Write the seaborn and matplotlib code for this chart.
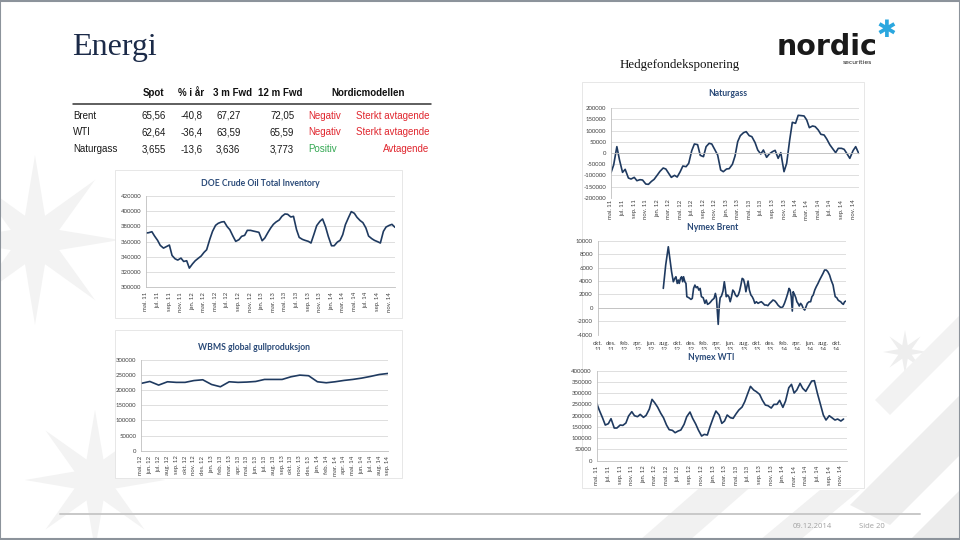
import numpy as np
import pandas as pd
import seaborn as sns
import matplotlib.pyplot as plt
from matplotlib.patches import Rectangle, Polygon
from matplotlib.lines import Line2D
from matplotlib.transforms import Bbox, TransformedBbox

W, H = 960, 540

# ---- table ----
table_cols = ["Spot", "% i år", "3 m Fwd", "12 m Fwd"]
table_rows = ["Brent", "WTI", "Naturgass"]
spot = ["65,56", "62,64", "3,655"]
pct_ytd = ["-40,8", "-36,4", "-13,6"]
fwd_3m = ["67,27", "63,59", "3,636"]
fwd_12m = ["72,05", "65,59", "3,773"]
model_signal = ["Negativ", "Negativ", "Positiv"]
model_trend = ["Sterkt avtagende", "Sterkt avtagende", "Avtagende"]

# ---- tick labels ----
month_ticks = ["mai. 11", "jul. 11", "sep. 11", "nov. 11", "jan. 12", "mar. 12", "mai. 12",
               "jul. 12", "sep. 12", "nov. 12", "jan. 13", "mar. 13", "mai. 13", "jul. 13",
               "sep. 13", "nov. 13", "jan. 14", "mar. 14", "mai. 14", "jul. 14", "sep. 14",
               "nov. 14"]
brent_ticks = ["okt.\n11", "des.\n11", "feb.\n12", "apr.\n12", "jun.\n12", "aug.\n12",
               "okt.\n12", "des.\n12", "feb.\n13", "apr.\n13", "jun.\n13", "aug.\n13",
               "okt.\n13", "des.\n13", "feb.\n14", "apr.\n14", "jun.\n14", "aug.\n14",
               "okt.\n14"]
gold_months = ["mai. 12", "jun. 12", "jul. 12", "aug. 12", "sep. 12", "okt. 12", "nov. 12",
               "des. 12", "jan. 13", "feb. 13", "mar. 13", "apr. 13", "mai. 13", "jun. 13",
               "jul. 13", "aug. 13", "sep. 13", "okt. 13", "nov. 13", "des. 13", "jan. 14",
               "feb. 14", "mar. 14", "apr. 14", "mai. 14", "jun. 14", "jul. 14", "aug. 14",
               "sep. 14"]

# ---- series (semi-monthly readings from mai 2011) ----
doe_inventory = [
    371200, 371600, 372900, 367200, 361500, 354900, 351300, 353100, 355300, 341600,
    337200, 335500, 338100, 333700, 334600, 324900, 330600, 334600, 338100, 340800,
    345600, 349100, 363200, 373400, 381300, 384000, 385700, 386200, 379600, 375600,
    366800, 360200, 362400, 366800, 368100, 374700, 374700, 373800, 372900, 372100,
    361000, 364600, 372100, 377800, 382600, 385700, 388400, 393200, 396300, 395900,
    392300, 393200, 375600, 365400, 362800, 361500, 360200, 358000, 369900, 380900,
    386600, 389700, 379100, 366800, 354400, 354400, 359300, 361500, 369000, 382200,
    391900, 399400, 397200, 391900, 387500, 384900, 377800, 367200, 363700, 361500,
    359700, 358000, 373400, 379100, 381300, 382600, 378700]

natgas_net = [
    -88000, -53700, 28400, -31300, -86600, -73100, -111900, -116400, -109000, -123900,
    -119400, -120900, -138800, -140300, -126900, -117900, -98500, -82100, -67200, -71600,
    -91000, -109000, -100000, -107500, -83600, -58200, -61200, -46300, 10400, 40300,
    37300, -10400, -16400, 28400, 43300, 40300, 13400, -9000, -76100, -83600,
    -71600, -70100, -50700, -13400, 50700, 77600, 91000, 95500, 77600, 73100,
    46300, 13400, -4500, 13400, -19400, -4500, 6000, 11900, -23900, 1500,
    -83600, -46300, 58200, 137300, 132800, 168700, 167200, 165700, 147800, 113400,
    120900, 117900, 103000, 83600, 80600, 62700, 37300, 20900, 1500, 20900,
    20900, 16400, -4500, -23900, 10400, 28400, -1500]

wti_net = [
    254800, 223700, 189600, 158500, 164400, 186700, 145200, 145200, 158500, 157000,
    167400, 198500, 217800, 200000, 195600, 205900, 192600, 201500, 229600, 272600,
    256300, 238500, 210400, 191100, 158500, 137800, 134800, 124400, 131900, 136300,
    161500, 195600, 216300, 188200, 163000, 136300, 109600, 117000, 114100, 151100,
    191100, 220700, 203000, 165900, 176300, 203000, 191100, 188200, 208900, 225200,
    238500, 262200, 299300, 330400, 314100, 306700, 294800, 269600, 247400, 244400,
    234100, 250400, 250400, 268200, 237000, 265200, 324400, 339300, 300700, 314100,
    343700, 321500, 308200, 328900, 354100, 355600, 299300, 256300, 203000, 180700,
    200000, 191100, 180700, 185200, 176300, 185200]

brent_dates = [
    "2012-07-28", "2012-08-08", "2012-08-20", "2012-08-28", "2012-09-04", "2012-09-12",
    "2012-09-19", "2012-09-24", "2012-09-30", "2012-10-05", "2012-10-09", "2012-10-15",
    "2012-10-20", "2012-10-25", "2012-10-29", "2012-11-04", "2012-11-09", "2012-11-13",
    "2012-11-22", "2012-12-02", "2012-12-08", "2012-12-14", "2012-12-20", "2012-12-26",
    "2013-01-01", "2013-01-07", "2013-01-13", "2013-01-19", "2013-01-27", "2013-02-04",
    "2013-02-10", "2013-02-16", "2013-02-24", "2013-03-03", "2013-03-09", "2013-03-18",
    "2013-03-24", "2013-03-29", "2013-04-06", "2013-04-11", "2013-04-15", "2013-04-21",
    "2013-04-28", "2013-05-04", "2013-05-08", "2013-05-13", "2013-05-19", "2013-05-25",
    "2013-05-31", "2013-06-06", "2013-06-12", "2013-06-18", "2013-06-24", "2013-07-01",
    "2013-07-07", "2013-07-13", "2013-07-19", "2013-07-25", "2013-07-31", "2013-08-06",
    "2013-08-11", "2013-08-17", "2013-08-21", "2013-08-27", "2013-09-03", "2013-09-09",
    "2013-09-15", "2013-09-21", "2013-09-28", "2013-10-06", "2013-10-13", "2013-10-21",
    "2013-10-29", "2013-11-05", "2013-11-13", "2013-11-20", "2013-11-28", "2013-12-06",
    "2013-12-13", "2013-12-21", "2013-12-29", "2014-01-05", "2014-01-13", "2014-01-20",
    "2014-01-28", "2014-02-04", "2014-02-12", "2014-02-19", "2014-02-25", "2014-03-02",
    "2014-03-07", "2014-03-12", "2014-03-16", "2014-03-22", "2014-03-28", "2014-04-02",
    "2014-04-07", "2014-04-13", "2014-04-19", "2014-04-25", "2014-05-01", "2014-05-08",
    "2014-05-14", "2014-05-20", "2014-05-28", "2014-06-04", "2014-06-10", "2014-06-16",
    "2014-06-23", "2014-06-30", "2014-07-08", "2014-07-15", "2014-07-23", "2014-07-31",
    "2014-08-07", "2014-08-15", "2014-08-22", "2014-08-30", "2014-09-06", "2014-09-15",
    "2014-09-19", "2014-09-25", "2014-10-02", "2014-10-08", "2014-10-14", "2014-10-20",
    "2014-10-26", "2014-11-01", "2014-11-07", "2014-11-13"]
brent_net = [
    2900, 6370, 9100, 7110, 5380, 3890, 4390, 4630, 3640, 4140,
    3640, 4390, 4630, 3890, 4630, 3890, 3640, 1660, 1510, 1260,
    1410, 2900, 3390, 3000, 3150, 2650, 2900, 1660, 1510, 670,
    1160, 520, 670, 910, 1160, 1410, 2150, 1410, -2460, 420,
    1510, 1760, 2500, 3890, 3000, 1660, 1910, 1660, 910, 1660,
    2650, 2400, 1910, 1660, 1910, 2500, 3390, 4390, 4240, 3490,
    2400, 3390, 3990, 2650, 1910, 1660, 1260, 670, 910, 670,
    810, 910, 670, 420, 420, 320, 670, 910, 1160, 1060,
    760, 420, 170, 20, 170, 670, 1410, 2150, 2900, 2650,
    1660, -480, 2400, 2000, 1510, 910, 670, 270, 670, 420,
    -80, -330, 170, 670, 910, 910, 1660, 1910, 2650, 3150,
    3640, 4140, 4630, 5130, 5630, 5630, 5380, 4880, 4140, 3390,
    2650, 1660, 1510, 1160, 1010, 910, 670, 520, 910, 1010]

gold_production = [222500, 229000, 217000, 228000, 226000, 226000, 232000, 234600, 219000,
                   211500, 228000, 226000, 227000, 229000, 235700, 235700, 235700, 244500,
                   250000, 248000, 228000, 224700, 228000, 232400, 235700, 240000, 245600,
                   252000, 255500]

LINE = "#1f3a60"
TITLE = "#2a4a78"
GRID = "#d9d9d9"
AXIS = "#bfbfbf"
TICKTXT = "#404040"
RED = "#e0262e"
GREEN = "#34a853"


def fx(x):
    return x / W


def fy(y):
    return 1 - y / H


sns.set_style("white")
plt.rcParams["font.family"] = ["Lato", "DejaVu Sans"]

fig = plt.figure(figsize=(9.6, 5.4), dpi=100)
fig.patch.set_facecolor("white")


def add_poly(pts, color, z=-5):
    fig.add_artist(Polygon([(fx(x), fy(y)) for x, y in pts], closed=True,
                           transform=fig.transFigure, fc=color, ec="none", zorder=z))


def add_box(x0, y0, x1, y1):
    fig.add_artist(Rectangle((fx(x0), fy(y1)), fx(x1) - fx(x0), (y1 - y0) / H,
                             transform=fig.transFigure, fc="white", ec="#e3e3e3",
                             lw=0.6, zorder=-3))


# faint watermark shapes behind the slide
def star(cx, cy, r, w, color):
    for ang in np.arange(0, 180, 45):
        a = np.deg2rad(ang)
        d = np.array([np.cos(a), np.sin(a)])
        n = np.array([-d[1], d[0]])
        c = np.array([cx, cy])
        add_poly([c + d * r, c + n * w, c - d * r, c - n * w], color)


star(35, 240, 85, 14, "#f3f3f3")
star(95, 480, 70, 12, "#f3f3f3")
star(905, 352, 22, 4, "#eeeeee")
add_poly([(850, 505), (960, 395), (960, 455), (890, 525)], "#eeeeee")
add_poly([(875, 400), (960, 315), (960, 345), (890, 415)], "#f2f2f2")
add_poly([(910, 540), (960, 490), (960, 540)], "#ececec")
add_poly([(640, 540), (720, 470), (770, 470), (690, 540)], "#f1f1f1")
add_poly([(760, 540), (820, 490), (860, 490), (800, 540)], "#f1f1f1")

# white chart panels
add_box(115, 170, 402, 318)
add_box(115, 330, 402, 478)
add_box(582, 82, 864, 488)


def make_ax(left, top, right, bottom):
    ax = fig.add_axes([fx(left), fy(bottom), fx(right) - fx(left), (bottom - top) / H])
    ax.set_facecolor("none")
    return ax


def style_ax(ax, yticks):
    ax.set_ylim(yticks[0], yticks[-1])
    ax.set_yticks(yticks)
    ax.set_yticklabels([str(v) for v in yticks])
    ax.grid(axis="y", color=GRID, lw=0.6)
    ax.grid(axis="x", visible=False)
    ax.set_axisbelow(True)
    for s in ["top", "right"]:
        ax.spines[s].set_visible(False)
    for s in ["left", "bottom"]:
        ax.spines[s].set_color(AXIS)
        ax.spines[s].set_linewidth(0.6)
    ax.tick_params(axis="both", labelsize=4.3, labelcolor=TICKTXT, color=AXIS,
                   length=2, width=0.5, direction="out", pad=1.5)
    ax.set_xlabel("")
    ax.set_ylabel("")


def chart_title(x, y, text):
    fig.text(fx(x), fy(y), text, ha="center", va="center", fontsize=6.2,
             fontweight="bold", color=TITLE)


start = pd.Timestamp("2011-05-01")
end = pd.Timestamp("2014-12-01")
semi_dates = pd.date_range(start, periods=len(doe_inventory), freq="SMS")
tick_dates = pd.date_range("2011-05-01", "2014-11-01", freq="2MS")

# ---- DOE Crude Oil Total Inventory ----
ax1 = make_ax(146, 196, 395, 287)
sns.lineplot(x=semi_dates, y=doe_inventory, ax=ax1, color=LINE, linewidth=1.2)
style_ax(ax1, list(range(300000, 420001, 20000)))
ax1.set_xlim(start, end)
ax1.set_xticks(tick_dates)
ax1.set_xticklabels(month_ticks, rotation=90)
chart_title(260, 183, "DOE Crude Oil Total Inventory")

# ---- WBMS global gullproduksjon ----
ax2 = make_ax(141, 360, 388, 450.7)
gold_x = np.arange(len(gold_production))
sns.lineplot(x=gold_x, y=gold_production, ax=ax2, color=LINE, linewidth=1.2)
style_ax(ax2, list(range(0, 300001, 50000)))
ax2.set_xlim(gold_x[0], gold_x[-1])
ax2.set_xticks(gold_x)
ax2.set_xticklabels(gold_months, rotation=90)
chart_title(254, 347, "WBMS global gullproduksjon")

# ---- Naturgass ----
ax3 = make_ax(611, 108.3, 858.7, 197.7)
sns.lineplot(x=pd.date_range(start, periods=len(natgas_net), freq="SMS"), y=natgas_net,
             ax=ax3, color=LINE, linewidth=1.2)
style_ax(ax3, list(range(-200000, 200001, 50000)))
ax3.spines["bottom"].set_position(("data", 0))
ax3.set_xlim(start, end)
ax3.set_xticks(tick_dates)
ax3.set_xticklabels(month_ticks, rotation=90)
ax3.tick_params(axis="x", pad=31.5)
chart_title(728, 94, "Naturgass")

# ---- Nymex Brent ----
ax4 = make_ax(597.7, 240.7, 845.7, 334.7)
sns.lineplot(x=pd.to_datetime(brent_dates), y=brent_net, ax=ax4, color=LINE, linewidth=1.2)
style_ax(ax4, list(range(-4000, 10001, 2000)))
ax4.spines["bottom"].set_position(("data", 0))
ax4.set_xlim(pd.Timestamp("2011-10-01"), pd.Timestamp("2014-11-12"))
ax4.set_xticks(pd.date_range("2011-10-01", "2014-10-01", freq="2MS"))
ax4.set_xticklabels(brent_ticks, rotation=0, linespacing=1.1)
ax4.tick_params(axis="x", pad=22)
# the year line under the month names is cut off by the chart frame
clip_box = TransformedBbox(Bbox([[0, fy(349.5)], [1, 1]]), fig.transFigure)
for lbl in ax4.get_xticklabels():
    lbl.set_clip_box(clip_box)
    lbl.set_clip_on(True)
chart_title(713, 227.5, "Nymex Brent")

# ---- Nymex WTI ----
ax5 = make_ax(596.7, 370.7, 846.6, 460.7)
sns.lineplot(x=pd.date_range(start, periods=len(wti_net), freq="SMS"), y=wti_net,
             ax=ax5, color=LINE, linewidth=1.2)
style_ax(ax5, list(range(0, 400001, 50000)))
ax5.set_xlim(start, end)
ax5.set_xticks(tick_dates)
ax5.set_xticklabels(month_ticks, rotation=90)
chart_title(711, 358, "Nymex WTI")

# ---- slide texts ----
fig.text(fx(72), fy(47), "Energi", fontsize=23, color="#1b2a48", va="center", ha="left",
         family=["Liberation Serif", "DejaVu Serif"])
fig.text(fx(680), fy(65), "Hedgefondeksponering", fontsize=9.3, color="#111111",
         va="center", ha="center", family=["Liberation Serif", "DejaVu Serif"])
fig.text(fx(777), fy(55), "nordic", fontsize=20.5, fontweight="heavy", color="#1a1a1a",
         va="baseline", ha="left", family=["DejaVu Sans"])
fig.text(fx(857), fy(62), "securities", fontsize=4.3, color="#1a1a1a", va="center",
         ha="center", family=["DejaVu Sans"])
fig.text(fx(886), fy(30), "\u2731", fontsize=17, color="#2aa7df", va="center",
         ha="center", family=["DejaVu Sans"])

# table
tfont = ["Liberation Sans", "DejaVu Sans"]
header_y = 93.3
row_y = [115.7, 132.3, 149]
col_right = [166, 203, 240.5, 294.3]
head_right = [164, 204, 252, 302]
for name, xr in zip(table_cols, head_right):
    fig.text(fx(xr), fy(header_y), name, fontsize=7, fontweight="bold", ha="right",
             va="center", family=tfont, color="#111111")
fig.text(fx(368), fy(header_y), "Nordicmodellen", fontsize=7, fontweight="bold",
         ha="center", va="center", family=tfont, color="#111111")
fig.add_artist(Line2D([fx(73), fx(431)], [fy(104), fy(104)], transform=fig.transFigure,
                      color="#333333", lw=1.1))
columns = [spot, pct_ytd, fwd_3m, fwd_12m]
for i, name in enumerate(table_rows):
    y = fy(row_y[i])
    fig.text(fx(73), y, name, fontsize=7, ha="left", va="center", family=tfont,
             color="#1a1a1a")
    for col, xr in zip(columns, col_right):
        fig.text(fx(xr), y, col[i], fontsize=7, ha="right", va="center", family=tfont,
                 color="#1a1a1a")
    sig_col = GREEN if model_signal[i] == "Positiv" else RED
    fig.text(fx(308.3), y, model_signal[i], fontsize=7, ha="left", va="center",
             family=tfont, color=sig_col)
    fig.text(fx(429.3), y, model_trend[i], fontsize=7, ha="right", va="center",
             family=tfont, color=RED)

# footer
fig.add_artist(Line2D([fx(60), fx(920)], [fy(513.5), fy(513.5)], transform=fig.transFigure,
                      color="#c8c8c8", lw=1.4))
fig.text(fx(812), fy(527), "09.12.2014", fontsize=5.5, color="#a0a0a0", ha="center",
         va="center", family=["Open Sans", "DejaVu Sans"])
fig.text(fx(872), fy(527), "Side 20", fontsize=5.5, color="#a0a0a0", ha="center",
         va="center", family=["Open Sans", "DejaVu Sans"])

# slide frame
fig.add_artist(Rectangle((0.0005, 0.001), 0.999, 0.998, transform=fig.transFigure,
                         fill=False, ec="#8c939b", lw=1.5, zorder=10))

fig.savefig("out.png", dpi=100)
